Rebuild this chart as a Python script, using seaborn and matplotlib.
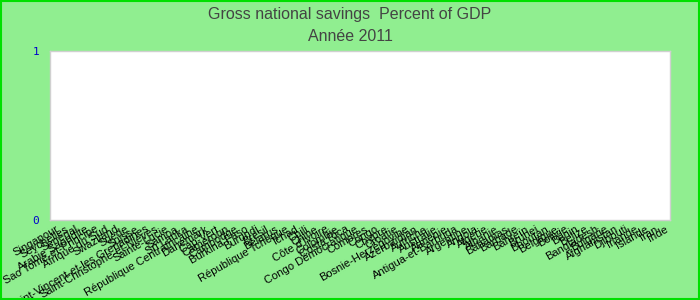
import matplotlib
matplotlib.use("Agg")
import matplotlib.pyplot as plt
import seaborn as sns
import pandas as pd

countries = [
    "Singapour", "Seychelles", "Sénégal", "Arabie Saoudite", "Sao Tomé-et-Principe",
    "Afrique du Sud", "Swaziland", "Suède", "Suisse",
    "Saint-Vincent-et-les Grenadines", "Saint-Christophe-et-Niévès", "Sainte-Lucie",
    "Samoa", "Sri Lanka", "République Centrafricaine", "Danemark", "Cap-Vert",
    "Cameroun", "Cambodge", "Burkina Faso", "Burundi", "Brésil", "Bélarus",
    "République Tchèque", "Tchad", "Chili", "Chine", "Côte d'Ivoire", "Colombie",
    "Costa Rica", "Congo Démocratique", "Comores", "Congo", "Chypre", "Croatie",
    "Bosnie-Herzégovine", "Azerbaïdjan", "Autriche", "Australie", "Arménie",
    "Antigua-et-Barbuda", "Argentine", "Angola", "Algérie", "Albanie", "Bahamas",
    "Barbade", "Bahreïn", "Brunei", "Bhoutan", "Belgique", "Bolivie", "Bénin",
    "Belize", "Bangladesh", "Bulgarie", "Afghanistan", "Djibouti", "Irlande",
    "Islande", "Iran", "Inde",
]
values = [0.0] * len(countries)
yticks = [0, 1]
title_lines = ["Gross national savings  Percent of GDP", "Année 2011"]

df = pd.DataFrame({"pays": countries, "valeur": values})

sns.set_theme(style="white")
plt.rcParams["font.family"] = ["Liberation Sans", "DejaVu Sans"]

fig = plt.figure(figsize=(7, 3), dpi=100, facecolor="#90ee90")
ax = fig.add_axes([0.072, 0.267, 0.885, 0.563])
sns.barplot(data=df, x="pays", y="valeur", ax=ax, color="#4472c4", edgecolor="none")

ax.set_facecolor("white")
ax.set_ylim(0, 1)
ax.set_yticks(yticks)
ax.set_yticklabels([str(t) for t in yticks], color="#0000cc", fontsize=8,
                   family="DejaVu Sans Mono")
ax.tick_params(axis="y", length=0, pad=8)
ax.tick_params(axis="x", length=0, pad=3)
ax.set_xticks(range(len(countries)))
ax.set_xticklabels(countries, rotation=30, ha="right", rotation_mode="anchor",
                   fontsize=8, color="black")
ax.set_xlabel("")
ax.set_ylabel("")
for s in ax.spines.values():
    s.set_color("#d0d0d0")
    s.set_linewidth(1)

fig.text(0.5, 0.953, title_lines[0], ha="center", va="center", fontsize=11.5, color="#444444")
fig.text(0.5, 0.878, title_lines[1], ha="center", va="center", fontsize=11.5, color="#444444")

border = plt.Rectangle((0.001, 0.002), 0.998, 0.996, transform=fig.transFigure,
                       fill=False, edgecolor="#00e000", linewidth=1.5)
fig.patches.append(border)

fig.savefig("out.png", dpi=100, facecolor=fig.get_facecolor())
